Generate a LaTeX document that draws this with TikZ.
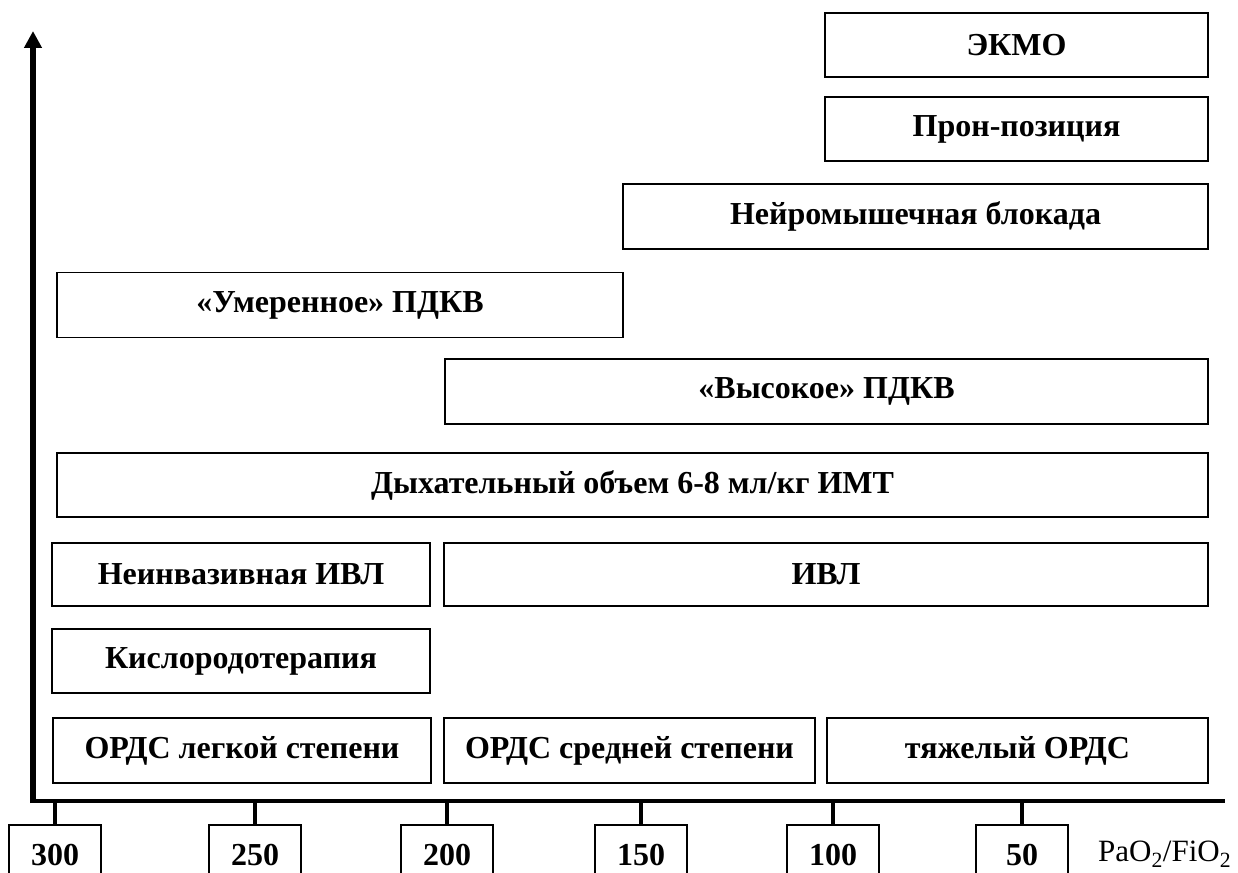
\documentclass[tikz,border=0pt]{standalone}
\usepackage{fontspec}
\setmainfont{Liberation Serif}
\usetikzlibrary{arrows.meta}

\tikzset{
	stufe/.style={draw, line width=1.6pt, inner sep=0pt, font=\bfseries\fontsize{32}{36}\selectfont},
	wert/.style={draw, line width=1.6pt, minimum width=92pt, minimum height=60pt, inner sep=0pt, font=\bfseries\fontsize{32}{36}\selectfont},
	achse/.style={line width=4pt},
	strich/.style={line width=3.5pt}
}

\begin{document}
\begin{tikzpicture}[x=1pt,y=-1pt]
		\useasboundingbox (0,0) rectangle (1238,872);
		\clip (0,0) rectangle (1238,872);
		
		% Achsen
		\coordinate (ursprung) at (33,801);
		\coordinate (oben) at (33,31);
		\coordinate (rechts) at (1225,801);
		\draw[line width=6pt, -{Triangle[width=17pt,length=17pt]}] ([yshift=-2pt]ursprung) -- (oben);
		\draw[achse] ([xshift=-3pt]ursprung) -- (rechts);
		
		% Massnahmen als Balken (Mitte, Breite, Hoehe)
		\node[stufe, minimum width=383pt, minimum height=64pt] (ekmo) at (1016.5,45) {ЭКМО};
		\node[stufe, minimum width=383pt, minimum height=64pt] (pron) at (1016.5,129) {Прон-позиция};
		\node[stufe, minimum width=585pt, minimum height=65pt] (blockade) at (915.5,216.5) {Нейромышечная блокада};
		\node[stufe, minimum width=566pt, minimum height=65pt] (peepMod) at (340,305) {«Умеренное» ПДКВ};
		\node[stufe, minimum width=763pt, minimum height=65pt] (peepHoch) at (826.5,391.5) {«Высокое» ПДКВ};
		\node[stufe, minimum width=1151pt, minimum height=64pt] (volumen) at (632.5,485) {Дыхательный объем 6-8 мл/кг ИМТ};
		\node[stufe, minimum width=378pt, minimum height=63pt] (niv) at (241,574.5) {Неинвазивная ИВЛ};
		\node[stufe, minimum width=764pt, minimum height=63pt] (ivl) at (826,574.5) {ИВЛ};
		\node[stufe, minimum width=378pt, minimum height=64pt] (sauerstoff) at (241,661) {Кислородотерапия};
		
		% Schweregrade
		\node[stufe, minimum width=378pt, minimum height=65pt] (leicht) at (242,750.5) {ОРДС легкой степени};
		\node[stufe, minimum width=371pt, minimum height=65pt] (mittel) at (629.5,750.5) {ОРДС средней степени};
		\node[stufe, minimum width=381pt, minimum height=65pt] (schwer) at (1017.5,750.5) {тяжелый ОРДС};
		
		% Skala PaO2/FiO2
		\foreach \v/\x in {300/55,250/255,200/447,150/641,100/833,50/1022} {
			\coordinate (a\v) at (\x,801);
			\node[wert] (w\v) at (\x,855) {\v};
			\draw[strich] (a\v) -- (w\v);
		}
		\node[anchor=west, inner sep=0pt, font=\fontsize{31}{34}\selectfont] (einheit) at (1098,854) {PaO\textsubscript{2}/FiO\textsubscript{2}};
	\end{tikzpicture}
\end{document}
